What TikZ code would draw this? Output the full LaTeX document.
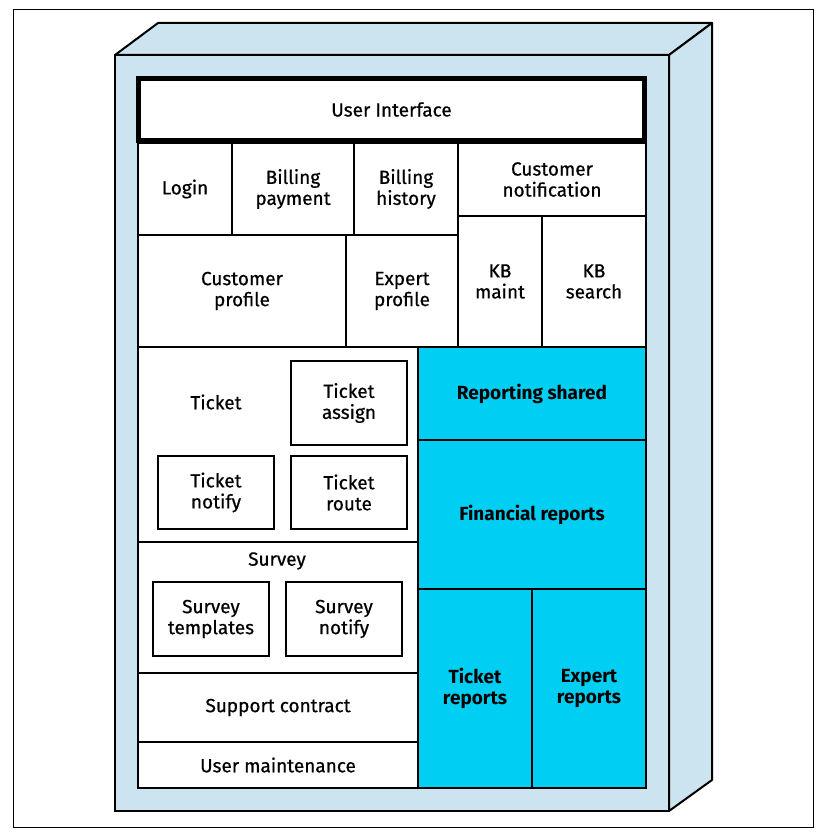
\documentclass[tikz,border=0pt]{standalone}
\usepackage{fontspec}
\setmainfont{Fira Sans}
\newfontfamily\medfont[FakeBold=0.6]{Fira Sans}
\definecolor{cabinet}{HTML}{CCE3F0}
\definecolor{report}{HTML}{00CEF2}
\tikzset{
  cell/.style={draw, line width=1.5pt, fill=white},
  sub/.style={draw, line width=1.5pt},
  rep/.style={draw, line width=1.5pt, fill=report},
  txt/.style={align=center, font=\medfont\fontsize{19}{21}\selectfont},
  reptxt/.style={align=center, font=\fontsize{19}{21}\selectfont\bfseries},
}
\begin{document}
\begin{tikzpicture}[x=1pt,y=-1pt]
                        \useasboundingbox (0,0) rectangle (834,837);
                        \draw[line width=1pt] (13,10) rectangle (813,827);
                        % cabinet
                        \coordinate (FL) at (115,55);
                        \coordinate (FR) at (669,55);
                        \coordinate (BR) at (669,811);
                        \coordinate (BL) at (115,811);
                        \coordinate (TL) at (158,23);
                        \coordinate (TR) at (712,23);
                        \coordinate (DR) at (712,780);
                        \draw[line width=2pt, fill=cabinet, line join=round] (FL) -- (TL) -- (TR) -- (FR) -- cycle;
                        \draw[line width=2pt, fill=cabinet, line join=round] (FR) -- (TR) -- (DR) -- (BR) -- cycle;
                        \draw[line width=2pt, fill=cabinet] (FL) rectangle (BR);
                        % top rows
                        \draw[cell, line width=4.5pt] (138.5,78.5) rectangle (644.5,140.5) node[midway, txt] (ui) {User Interface};
                        \draw[cell] (138,143) rectangle (232,235) node[midway, txt] (login) {Login};
                        \draw[cell] (232,143) rectangle (354,235) node[midway, txt] (billpay) {Billing\\payment};
                        \draw[cell] (354,143) rectangle (458,235) node[midway, txt] (billhist) {Billing\\history};
                        \draw[cell] (458,143) rectangle (646,216) node[midway, txt] (custnotif) {Customer\\notification};
                        \draw[cell] (138,235) rectangle (346,347) node[midway, txt] (custprof) {Customer\\profile};
                        \draw[cell] (346,235) rectangle (458,347) node[midway, txt] (expprof) {Expert\\profile};
                        \draw[cell] (458,216) rectangle (542,347) node[midway, txt] (kbmaint) {KB\\maint};
                        \draw[cell] (542,216) rectangle (646,347) node[midway, txt] (kbsearch) {KB\\search};
                        % ticket
                        \draw[cell] (138,347) rectangle (418,542);
                        \node[txt] (ticket) at (216,402) {Ticket};
                        \draw[sub] (291,361) rectangle (407,445) node[midway, txt] (tassign) {Ticket\\assign};
                        \draw[sub] (158,456) rectangle (274,529) node[midway, txt] (tnotify) {Ticket\\notify};
                        \draw[sub] (291,456) rectangle (407,529) node[midway, txt] (troute) {Ticket\\route};
                        % survey
                        \draw[cell] (138,542) rectangle (418,673);
                        \node[txt] (survey) at (277,561) {Survey};
                        \draw[sub] (153,582) rectangle (269,656) node[midway, txt] (stempl) {Survey\\templates};
                        \draw[sub] (286,582) rectangle (402,656) node[midway, txt] (snotify) {Survey\\notify};
                        \draw[cell] (138,673) rectangle (418,742) node[midway, txt] (contract) {Support contract};
                        \draw[cell] (138,742) rectangle (418,788) node[midway, txt] (usermaint) {User maintenance};
                        % reporting
                        \draw[rep] (418,347) rectangle (646,440) node[midway, reptxt] (repshared) {Reporting shared};
                        \draw[rep] (418,440) rectangle (646,589) node[midway, reptxt] (finrep) {Financial reports};
                        \draw[rep] (418,589) rectangle (532,788) node[midway, reptxt] (tickrep) {Ticket\\reports};
                        \draw[rep] (532,589) rectangle (646,788) node[midway, reptxt] (exprep) {Expert\\reports};
                    \end{tikzpicture}
\end{document}
